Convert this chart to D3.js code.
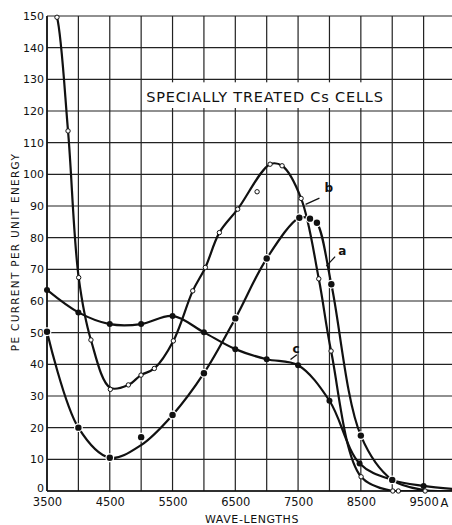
<!DOCTYPE html>
<html>
<head>
<meta charset="utf-8">
<script src="https://cdn.jsdelivr.net/npm/d3@7"></script>
<style>
  body { margin: 0; background: #fff; }
  svg text { font-family: "DejaVu Sans", sans-serif; fill: #111; }
</style>
</head>
<body>
<div id="chart"></div>
<script>
// wave-lengths (A) and PE current per unit energy
// curve a : filled dots, line broken at the dots
const aLineW = [3500, 4000, 4500, 5000, 5500, 6000, 6500, 7000, 7520, 7690, 7800, 8030, 8500, 9000, 9500, 9800]
const aLineV = [50.3, 20, 10.5, 14.5, 24, 37.2, 54.5, 73.4, 86.3, 86, 84.7, 65.3, 17.5, 3.5, 0.3, 0]
const aDotW = [3500, 4000, 4500, 5000, 5500, 6000, 6500, 7000, 7520, 7690, 7800, 8030, 8500, 9000]
const aDotV = [50.3, 20, 10.5, 17, 24, 37.2, 54.5, 73.4, 86.3, 86, 84.7, 65.3, 17.5, 3.5]

// curve b : open circles
const bLineW = [3600, 3659, 3835, 4005, 4200, 4509, 4796, 4998, 5210, 5513, 5822, 6023, 6246, 6538, 7054, 7245, 7548, 7830, 8026, 8504, 9009, 9098, 9524, 10000]
const bLineV = [152, 149.6, 113.7, 67.4, 47.7, 32.6, 33.5, 36.6, 38.7, 47.4, 63.2, 70.6, 81.6, 89.0, 103.2, 102.7, 92.4, 67, 44.2, 4.5, 0, 0, 0, 0]
const bDotW = [3659, 3835, 4005, 4200, 4509, 4796, 4998, 5210, 5513, 5822, 6023, 6246, 6538, 6847, 7054, 7245, 7548, 7830, 8026, 8504, 9009, 9098, 9524]
const bDotV = [149.6, 113.7, 67.4, 47.7, 32.1, 33.5, 36.6, 38.7, 47.4, 63.2, 70.6, 81.6, 89.0, 94.5, 103.2, 102.7, 92.4, 67, 44.2, 4.5, 0, 0, 0]

// curve c : filled dots, solid line
const cLineW = [3500, 4000, 4500, 5000, 5500, 6000, 6500, 7000, 7500, 8000, 8480, 9000, 9500, 10000]
const cLineV = [63.5, 56.4, 52.7, 52.7, 55.3, 50.1, 44.8, 41.6, 39.7, 28.5, 8.7, 3.5, 1.6, 0.6]
const cDotW = [3500, 4000, 4500, 5000, 5500, 6000, 6500, 7000, 7500, 8000, 8480, 9000, 9500]
const cDotV = [63.5, 56.4, 52.7, 52.7, 55.3, 50.1, 44.8, 41.6, 39.7, 28.5, 8.7, 3.5, 1.6]

const xTicks = [3500, 4500, 5500, 6500, 7500, 8500, 9500]
const yTicks = d3.range(0, 151, 10)
const title = "SPECIALLY TREATED Cs CELLS"

const width = 452, height = 525
const margin = {top: 16, right: 0, bottom: 34, left: 47}

const x = d3.scaleLinear().domain([3500, 10000]).range([margin.left, 455])
const y = d3.scaleLinear().domain([0, 150]).range([height - margin.bottom, margin.top])

const svg = d3.select("#chart").append("svg")
  .attr("width", width)
  .attr("height", height)

svg.append("clipPath").attr("id", "plot")
  .append("rect")
  .attr("x", x(3500)).attr("y", y(150))
  .attr("width", width - x(3500)).attr("height", y(0) - y(150))

// grid
const grid = svg.append("g").attr("stroke", "#222").attr("stroke-width", 1.2)
grid.selectAll(".vg")
  .data(d3.range(3500, 10000, 500))
  .enter().append("line")
  .attr("x1", d => x(d)).attr("x2", d => x(d))
  .attr("y1", y(150)).attr("y2", y(0))
grid.selectAll(".hg")
  .data(yTicks)
  .enter().append("line")
  .attr("x1", x(3500)).attr("x2", width)
  .attr("y1", d => y(d)).attr("y2", d => y(d))

// axis frame a bit heavier
svg.append("line").attr("stroke", "#111").attr("stroke-width", 1.6)
  .attr("x1", x(3500)).attr("x2", x(3500)).attr("y1", y(150)).attr("y2", y(0))
svg.append("line").attr("stroke", "#111").attr("stroke-width", 1.6)
  .attr("x1", x(3500)).attr("x2", width).attr("y1", y(0)).attr("y2", y(0))

// title box covers the grid
svg.append("rect")
  .attr("x", x(5000) + 1.5).attr("y", y(130) + 3)
  .attr("width", x(9000) - x(5000) - 3).attr("height", y(120) - y(130) - 6)
  .attr("fill", "#fff")
svg.append("text")
  .attr("x", x(5000) + 5).attr("y", 102)
  .attr("font-size", 14.5)
  .attr("letter-spacing", 0.8)
  .text(title)

// axes labels
const xAxis = d3.axisBottom(x).tickValues(xTicks).tickFormat(d3.format("d")).tickSize(0).tickPadding(7)
const gx = svg.append("g").attr("transform", `translate(0,${y(0)})`).call(xAxis)
gx.select(".domain").remove()
gx.selectAll("text").attr("font-size", 11.5).attr("font-family", null).attr("fill", null)

svg.append("text")
  .attr("x", x(9500) + 17).attr("y", y(0) + 16)
  .attr("font-size", 11.5)
  .text("A")

const yAxis = d3.axisLeft(y).tickValues(yTicks).tickFormat(d3.format("d")).tickSize(0).tickPadding(3)
const gy = svg.append("g").attr("transform", `translate(${x(3500)},0)`).call(yAxis)
gy.select(".domain").remove()
gy.selectAll("text").attr("font-size", 11).attr("font-family", null).attr("fill", null)
  .attr("y", d => d === 0 ? -3 : 0)

svg.append("text")
  .attr("transform", `translate(19,252) rotate(-90)`)
  .attr("text-anchor", "middle")
  .attr("font-size", 10.5)
  .attr("letter-spacing", 1.3)
  .text("PE CURRENT PER UNIT ENERGY")

svg.append("text")
  .attr("x", 252).attr("y", 523)
  .attr("text-anchor", "middle")
  .attr("font-size", 11)
  .attr("letter-spacing", 0.6)
  .text("WAVE-LENGTHS")

// curves
const line = d3.line()
  .x(d => x(d[0]))
  .y(d => y(d[1]))
  .curve(d3.curveCatmullRom.alpha(0.5))

const curves = svg.append("g").attr("clip-path", "url(#plot)")
  .attr("fill", "none").attr("stroke", "#111").attr("stroke-width", 2.2)

curves.append("path").attr("d", line(d3.zip(cLineW, cLineV)))
curves.append("path").attr("d", line(d3.zip(bLineW, bLineV)))
curves.append("path").attr("d", line(d3.zip(aLineW, aLineV)))

// dots
svg.append("g").selectAll("circle")
  .data(d3.zip(cDotW, cDotV))
  .enter().append("circle")
  .attr("cx", d => x(d[0])).attr("cy", d => y(d[1]))
  .attr("r", 3).attr("fill", "#111")

svg.append("g").selectAll("circle")
  .data(d3.zip(aDotW, aDotV))
  .enter().append("circle")
  .attr("cx", d => x(d[0])).attr("cy", d => y(d[1]))
  .attr("r", 3.2).attr("fill", "#111")
  .attr("stroke", "#fff").attr("stroke-width", 2.5)
  .attr("paint-order", "stroke")

svg.append("g").selectAll("circle")
  .data(d3.zip(bDotW, bDotV))
  .enter().append("circle")
  .attr("cx", d => x(d[0])).attr("cy", d => y(d[1]))
  .attr("r", 2.2).attr("fill", "#fff")
  .attr("stroke", "#111").attr("stroke-width", 1)

// curve letters with short leaders
const labels = [
  {t: "a", lx: 8140, ly: 74.5, x1: 7950, y1: 71, x2: 8090, y2: 74},
  {t: "b", lx: 7920, ly: 94.5, x1: 7620, y1: 90.5, x2: 7840, y2: 92.5},
  {t: "c", lx: 7410, ly: 43.5, x1: 7380, y1: 41.5, x2: 7480, y2: 43}
]
labels.forEach(l => {
  svg.append("line")
    .attr("x1", x(l.x1)).attr("y1", y(l.y1))
    .attr("x2", x(l.x2)).attr("y2", y(l.y2))
    .attr("stroke", "#111").attr("stroke-width", 1.3)
  svg.append("text")
    .attr("x", x(l.lx)).attr("y", y(l.ly))
    .attr("font-size", 12).attr("font-weight", "bold")
    .text(l.t)
})
</script>
</body>
</html>
